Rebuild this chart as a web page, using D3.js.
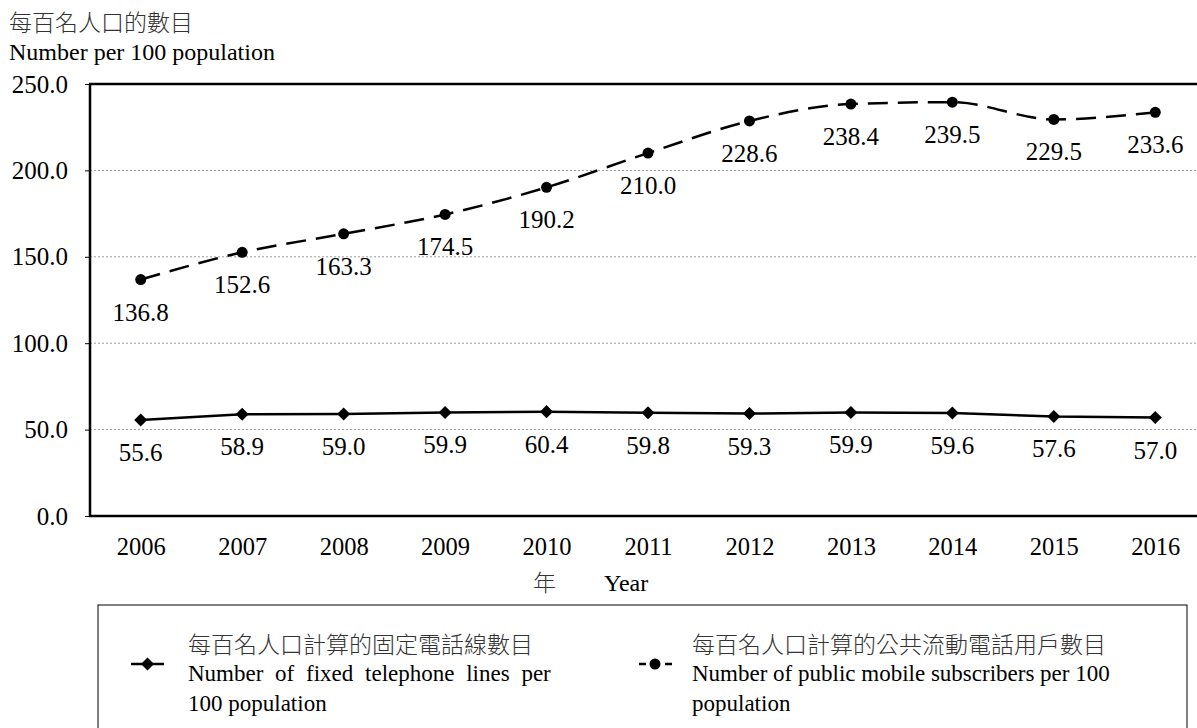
<!DOCTYPE html>
<html>
<head>
<meta charset="utf-8">
<script src="https://cdn.jsdelivr.net/npm/d3@7"></script>
<style>
  html, body { margin: 0; padding: 0; background: #fff; }
  svg { display: block; }
  text { font-family: "Liberation Serif", "Noto Sans CJK TC", serif; fill: #000; }
  .cjk { font-family: "Noto Sans CJK TC", sans-serif; font-weight: 300; fill: #333; }
</style>
</head>
<body>
<script>
// Years on the category axis
const years = ["2006","2007","2008","2009","2010","2011","2012","2013","2014","2015","2016"];
// Fixed telephone lines per 100 population
const fixedLines = [55.6, 58.9, 59.0, 59.9, 60.4, 59.8, 59.3, 59.9, 59.6, 57.6, 57.0];
// Public mobile subscribers per 100 population
const mobileSubs = [136.8, 152.6, 163.3, 174.5, 190.2, 210.0, 228.6, 238.4, 239.5, 229.5, 233.6];
// Value-axis ticks
const yTicks = [0, 50, 100, 150, 200, 250];

const W = 1197, H = 728;
const svg = d3.select("body").append("svg").attr("width", W).attr("height", H);

const x = d3.scalePoint().domain(years).range([90, 1206]).padding(0.5);
const y = d3.scaleLinear().domain([0, 250]).range([516, 84]);

// Axis title
svg.append("text").attr("class", "cjk").attr("x", 9).attr("y", 31)
  .style("font-size", "23px").text("每百名人口的數目");
svg.append("text").attr("x", 9).attr("y", 60)
  .style("font-size", "24px").text("Number per 100 population");

// Gridlines
svg.append("g").selectAll("line").data(yTicks.filter(t => t > 0 && t < 250)).join("line")
  .attr("x1", 90).attr("x2", W).attr("y1", d => y(d)).attr("y2", d => y(d))
  .attr("stroke", "#9a9a9a").attr("stroke-width", 1).attr("stroke-dasharray", "2,2");

// Y axis labels
const yAxis = d3.axisLeft(y).tickValues(yTicks).tickFormat(d3.format(".1f")).tickSize(5).tickPadding(17);
const gy = svg.append("g").attr("transform", "translate(90,0)").call(yAxis);
gy.select(".domain").remove();
gy.selectAll(".tick line").attr("stroke", "#000").attr("stroke-width", 1);
gy.selectAll("text").style("font-size", "25px").attr("font-family", null);

// Frame lines: left, top, bottom
svg.append("line").attr("x1", 90).attr("x2", 90).attr("y1", y(250)).attr("y2", y(0))
  .attr("stroke", "#000").attr("stroke-width", 2.5);
svg.append("line").attr("x1", 89).attr("x2", W).attr("y1", y(250)).attr("y2", y(250))
  .attr("stroke", "#000").attr("stroke-width", 2.5);
svg.append("line").attr("x1", 89).attr("x2", W).attr("y1", y(0)).attr("y2", y(0))
  .attr("stroke", "#000").attr("stroke-width", 2.5);

// X axis labels
const xAxis = d3.axisBottom(x).tickSize(0).tickPadding(22);
const gx = svg.append("g").attr("transform", `translate(0,${y(0)})`).call(xAxis);
gx.select(".domain").remove();
gx.selectAll("text").style("font-size", "24.5px").attr("font-family", null);

// X axis title
svg.append("text").attr("class", "cjk").attr("x", 533).attr("y", 591)
  .style("font-size", "23px").text("年");
svg.append("text").attr("x", 604).attr("y", 591)
  .style("font-size", "24px").text("Year");

const diamond = d3.symbol().type(d3.symbolSquare).size(85);

// Fixed lines series
svg.append("path").datum(fixedLines)
  .attr("fill", "none").attr("stroke", "#000").attr("stroke-width", 2.5)
  .attr("d", d3.line().x((d, i) => x(years[i])).y(d => y(d)));
svg.append("g").selectAll("path").data(fixedLines).join("path")
  .attr("transform", (d, i) => `translate(${x(years[i])},${y(d)}) rotate(45)`)
  .attr("d", diamond).attr("fill", "#000");
svg.append("g").selectAll("text").data(fixedLines).join("text")
  .attr("x", (d, i) => x(years[i])).attr("y", d => y(d) + 41)
  .attr("text-anchor", "middle").style("font-size", "25px")
  .text(d => d.toFixed(1));

// Mobile subscribers series (smoothed, dashed)
svg.append("path").datum(mobileSubs)
  .attr("fill", "none").attr("stroke", "#000").attr("stroke-width", 2.5)
  .attr("stroke-dasharray", "20,10")
  .attr("d", d3.line().curve(d3.curveMonotoneX).x((d, i) => x(years[i])).y(d => y(d)));
svg.append("g").selectAll("circle").data(mobileSubs).join("circle")
  .attr("cx", (d, i) => x(years[i])).attr("cy", d => y(d)).attr("r", 5.5).attr("fill", "#000");
svg.append("g").selectAll("text").data(mobileSubs).join("text")
  .attr("x", (d, i) => x(years[i])).attr("y", d => y(d) + 41)
  .attr("text-anchor", "middle").style("font-size", "25px")
  .text(d => d.toFixed(1));

// Legend
const lg = svg.append("g");
lg.append("rect").attr("x", 98).attr("y", 605).attr("width", 1089).attr("height", 140)
  .attr("fill", "none").attr("stroke", "#000").attr("stroke-width", 1);

lg.append("line").attr("x1", 131).attr("x2", 164).attr("y1", 664).attr("y2", 664)
  .attr("stroke", "#000").attr("stroke-width", 2.5);
lg.append("path").attr("transform", "translate(147.5,664) rotate(45)")
  .attr("d", diamond).attr("fill", "#000");
lg.append("text").attr("class", "cjk").attr("x", 188).attr("y", 653)
  .style("font-size", "23px").text("每百名人口計算的固定電話線數目");
lg.append("text").attr("x", 188).attr("y", 681)
  .style("font-size", "23px").attr("word-spacing", "6px").text("Number of fixed telephone lines per");
lg.append("text").attr("x", 188).attr("y", 711)
  .style("font-size", "23px").text("100 population");

lg.append("line").attr("x1", 639).attr("x2", 672).attr("y1", 664).attr("y2", 664)
  .attr("stroke", "#000").attr("stroke-width", 2.5).attr("stroke-dasharray", "7,6");
lg.append("circle").attr("cx", 655).attr("cy", 664).attr("r", 5.5).attr("fill", "#000");
lg.append("text").attr("class", "cjk").attr("x", 692).attr("y", 653)
  .style("font-size", "23px").text("每百名人口計算的公共流動電話用戶數目");
lg.append("text").attr("x", 692).attr("y", 681)
  .style("font-size", "23px").text("Number of public mobile subscribers per 100");
lg.append("text").attr("x", 692).attr("y", 711)
  .style("font-size", "23px").text("population");
</script>
</body>
</html>
